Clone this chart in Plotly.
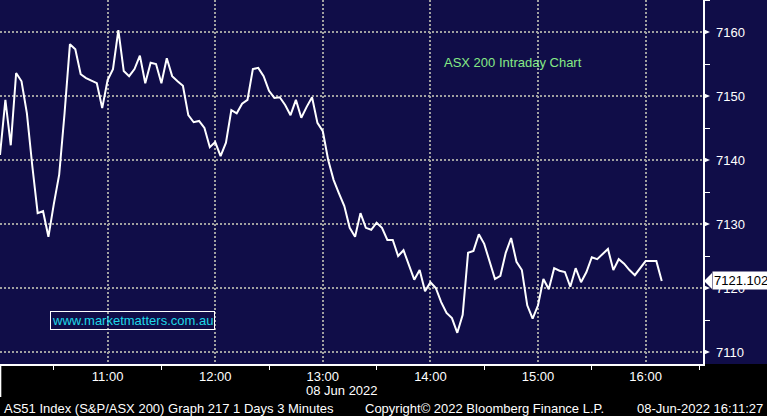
import plotly.graph_objects as go
import pandas as pd

# ---- data (ASX 200 intraday, 3-minute bars, 08 Jun 2022) ----
prices = [
    7140.8, 7149.4, 7142.3, 7153.6, 7152.3, 7147.3, 7139.1, 7131.7, 7132.0, 7128.0,
    7133.1, 7137.7, 7147.3, 7158.1, 7157.3, 7153.4, 7152.8, 7152.4, 7152.0, 7148.1,
    7152.5, 7154.2, 7160.3, 7153.9, 7153.1, 7154.2, 7156.3, 7152.0, 7155.2, 7155.0,
    7152.0, 7155.9, 7153.1, 7152.3, 7151.6, 7147.0, 7145.9, 7146.1, 7145.0, 7142.0,
    7142.8, 7140.6, 7142.7, 7147.8, 7147.3, 7148.8, 7149.4, 7154.2, 7154.4, 7153.1,
    7150.8, 7149.7, 7149.8, 7148.6, 7147.0, 7149.4, 7146.6, 7148.3, 7149.8, 7145.8,
    7144.5, 7140.0, 7136.9, 7134.8, 7132.8, 7129.4, 7128.0, 7131.7, 7129.4, 7129.1,
    7130.2, 7129.4, 7127.5, 7127.5, 7125.0, 7125.9, 7123.6, 7121.3, 7122.8, 7119.5,
    7120.9, 7120.0, 7117.8, 7116.1, 7115.3, 7113.0, 7115.8, 7125.5, 7125.8, 7128.4,
    7126.9, 7124.1, 7121.4, 7121.9, 7125.5, 7127.8, 7124.1, 7122.8, 7117.3, 7115.2,
    7117.3, 7121.4, 7119.8, 7123.1, 7122.7, 7122.5, 7120.2, 7123.1, 7120.9, 7122.5,
    7124.8, 7124.5, 7125.3, 7126.1, 7122.8, 7124.5, 7123.8, 7122.8, 7122.0, 7123.1,
    7124.2, 7124.2, 7124.2, 7121.102,
]
start_time = "2022-06-08 10:00"
times = pd.date_range(start_time, periods=len(prices), freq="3min")

x_range = ["2022-06-08 10:00", "2022-06-08 16:32"]
y_range = [7108.125, 7165]

hour_ticks = ["2022-06-08 %02d:00" % h for h in range(10, 17)]
hour_labels = [""] + ["%02d:00" % h for h in range(11, 17)]
half_ticks = ["2022-06-08 %02d:30" % h for h in range(10, 17)]
y_ticks = [7110, 7120, 7130, 7140, 7150, 7160]
y_minor = [7115, 7125, 7135, 7145, 7155, 7165]

title_text = "ASX 200 Intraday Chart"
site_text = "www.marketmatters.com.au"
date_text = "08 Jun 2022"
footer_left = "AS51 Index (S&P/ASX 200) Graph 217 1 Days 3 Minutes"
footer_mid = "Copyright\u00a9 2022 Bloomberg Finance L.P."
footer_right = "08-Jun-2022 16:11:27"

NAVY = "#100d48"
FONT = "Liberation Sans"
W, H = 767, 416
ML, MR, MT, MB = 0, 64, 0, 52
PW, PH = W - ML - MR, H - MT - MB

def px_x(p):
    return p / PW

def px_y(p):
    # p = pixels from top of plot area
    return 1 - p / PH

fig = go.Figure()
fig.add_trace(go.Scatter(
    x=times, y=prices, mode="lines",
    line=dict(color="white", width=2), hoverinfo="skip", showlegend=False,
))

shapes = []
# right margin navy panel
shapes.append(dict(type="rect", xref="paper", yref="paper", x0=1, x1=W / PW, y0=0, y1=1,
                   fillcolor=NAVY, line=dict(width=0), layer="below"))
# small white line under the left edge
shapes.append(dict(type="line", xref="paper", yref="paper", x0=0.0008, x1=0.0008,
                   y0=px_y(PH + 33), y1=0, line=dict(color="white", width=1.5)))
# tick pointer triangles on y axis
uh = (y_range[1] - y_range[0]) / PH
for v in y_ticks:
    shapes.append(dict(type="path", xref="paper", yref="y",
                       path="M 1,%f L %f,%f L 1,%f Z" % (v + 3 * uh, 1 + px_x(7), v, v - 3 * uh),
                       fillcolor="white", line=dict(width=0)))
# last value label pointer
last = prices[-1]
shapes.append(dict(type="path", xref="paper", yref="y",
                   path="M %f,%f L %f,%f L %f,%f Z" % (1 + px_x(1), last, 1 + px_x(9), last + 8 * uh,
                                                       1 + px_x(9), last - 8 * uh),
                   fillcolor="white", line=dict(width=0)))

def note(text, x, y, color="white", xanchor="center", **kw):
    return dict(text=text, xref="paper", yref="paper", x=px_x(x), y=px_y(y),
                xanchor=xanchor, yanchor="middle", showarrow=False,
                font=dict(family=FONT, size=13, color=color), **kw)

annotations = [
    note(title_text, 513, 62, color="#86ea86"),
    note(site_text, 50, 320, color="#1fd8e8", xanchor="left",
         bordercolor="white", borderwidth=1, borderpad=1),
    note(date_text, 342, 390),
    note(footer_left, 2, 408, xanchor="left"),
    note(footer_mid, 363, 408, xanchor="left"),
    note(footer_right, 765, 408, xanchor="right"),
    dict(text="%.3f" % last, xref="paper", yref="y", x=1 + px_x(9), y=last,
         xanchor="left", yanchor="middle",
         showarrow=False, font=dict(family=FONT, size=13, color="black"),
         bgcolor="white", borderpad=1),
]

fig.update_layout(
    width=W, height=H, margin=dict(l=ML, r=MR, t=MT, b=MB, pad=0),
    paper_bgcolor="black", plot_bgcolor=NAVY,
    font=dict(family=FONT, size=13, color="white"),
    shapes=shapes, annotations=annotations, showlegend=False,
    xaxis=dict(
        type="date", range=x_range, tickmode="array", tickvals=hour_ticks, ticktext=hour_labels,
        showgrid=True, gridcolor="#a0a0a0", gridwidth=2, griddash="2px,2px",
        showline=True, linecolor="white", linewidth=1.5, ticks="", zeroline=False,
        automargin=False,
        tickfont=dict(family=FONT, size=13, color="white"),
        minor=dict(tickmode="array", tickvals=half_ticks, ticks="outside", ticklen=4,
                   tickcolor="white", tickwidth=1, showgrid=False),
    ),
    yaxis=dict(
        side="right", range=y_range, tickmode="array", tickvals=y_ticks,
        ticktext=[str(v) for v in y_ticks],
        showgrid=True, gridcolor="#a0a0a0", gridwidth=2, griddash="2px,2px",
        showline=True, linecolor="white", linewidth=1.5, ticks="", zeroline=False,
        automargin=False, ticklabelstandoff=9,
        tickfont=dict(family=FONT, size=13, color="white"),
        minor=dict(tickmode="array", tickvals=y_minor, ticks="outside", ticklen=5,
                   tickcolor="white", tickwidth=1, showgrid=False),
    ),
)

fig.write_html("out.html", config={"displayModeBar": False, "staticPlot": True},
               post_script="document.body.style.margin='0px';document.body.style.overflow='hidden';")
